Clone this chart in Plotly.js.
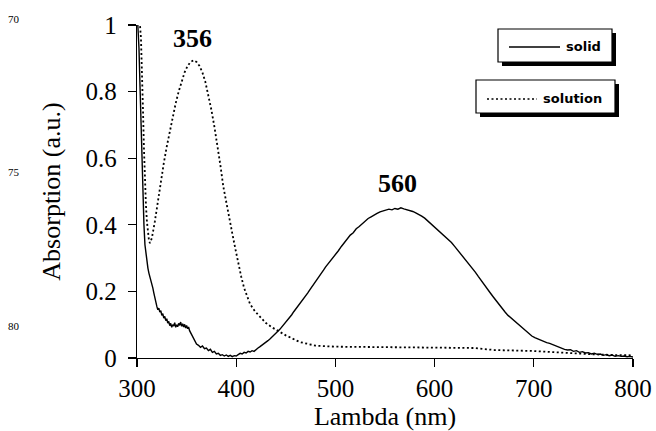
<!DOCTYPE html>
<html>
<head>
<meta charset="utf-8">
<script src="https://cdn.plot.ly/plotly-3.0.1.min.js"></script>
<style>html,body{margin:0;padding:0;background:#fff;}#chart{width:656px;height:431px;}</style>
</head>
<body>
<div id="chart"></div>
<script>
// ---- Data ----
const solidX = [300,301,302,303,304,305,306,307,308,309,310,311,312,313,314,315,316,317,318,319,320,321,322,323,324,325,326,327,328,329,330,331,332,333,334,335,336,337,338,339,340,341,342,343,344,345,346,347,348,349,350,351,352,353,354,355,356,357,358,359,360,362,364,366,368,370,372,374,376,378,380,382,384,386,388,390,392,394,396,398,400,402,404,406,408,410,412,414,416,418,420,422,424,426,428,430,432,434,436,438,440,442,444,446,448,450,452,454,456,458,460,462,464,466,468,470,472,474,476,478,480,482,484,486,488,490,492,494,496,498,500,503,506,509,512,515,518,521,524,527,530,533,536,539,542,545,548,551,554,557,560,563,566,569,572,575,578,581,584,587,590,593,596,599,602,605,608,611,614,617,620,623,626,629,632,635,638,641,644,647,650,653,656,659,662,665,668,671,674,677,680,683,686,689,692,695,698,701,704,707,710,713,716,719,722,725,728,731,734,737,740,743,746,749,752,755,758,761,764,767,770,773,776,779,782,785,788,791,794,797,800];
const solidY = [1.05,1.0,0.93,0.82,0.70,0.58,0.47,0.40,0.34,0.31,0.29,0.27,0.255,0.245,0.235,0.225,0.21,0.195,0.178,0.165,0.155,0.145,0.15,0.138,0.142,0.128,0.133,0.12,0.125,0.112,0.118,0.105,0.11,0.097,0.104,0.092,0.1,0.096,0.106,0.092,0.1,0.094,0.104,0.098,0.108,0.095,0.103,0.093,0.101,0.09,0.098,0.088,0.093,0.082,0.076,0.07,0.062,0.058,0.05,0.047,0.042,0.038,0.032,0.036,0.028,0.03,0.022,0.026,0.017,0.02,0.012,0.014,0.008,0.01,0.006,0.009,0.005,0.008,0.004,0.007,0.006,0.01,0.014,0.012,0.017,0.015,0.02,0.018,0.022,0.02,0.026,0.03,0.034,0.038,0.042,0.046,0.052,0.057,0.062,0.068,0.074,0.08,0.086,0.093,0.1,0.108,0.115,0.122,0.13,0.139,0.147,0.152,0.16,0.168,0.178,0.187,0.195,0.204,0.212,0.221,0.23,0.238,0.247,0.255,0.264,0.273,0.28,0.288,0.296,0.303,0.31,0.322,0.335,0.347,0.357,0.369,0.376,0.388,0.395,0.404,0.41,0.419,0.424,0.43,0.434,0.439,0.442,0.444,0.447,0.445,0.449,0.447,0.451,0.448,0.446,0.444,0.44,0.436,0.432,0.426,0.42,0.412,0.404,0.395,0.386,0.378,0.372,0.364,0.356,0.347,0.336,0.325,0.313,0.302,0.293,0.282,0.27,0.258,0.245,0.232,0.22,0.208,0.196,0.184,0.172,0.16,0.149,0.138,0.128,0.12,0.113,0.105,0.097,0.09,0.082,0.074,0.066,0.061,0.057,0.053,0.05,0.046,0.044,0.04,0.036,0.033,0.03,0.026,0.024,0.025,0.02,0.022,0.017,0.019,0.015,0.016,0.012,0.014,0.011,0.012,0.008,0.01,0.007,0.009,0.005,0.007,0.005,0.006,0.004,0.005,0.003];

const solutionX = [300,303,304,305,306,307,308,309,310,311,312,313,315,318,321,324,327,330,333,336,339,342,345,348,351,354,357,360,363,366,369,372,375,378,381,384,387,390,393,396,399,402,405,408,411,414,419,424,430,436,441,450,464,480,500,530,560,600,640,650,660,700,733,760,780,800];
const solutionY = [1.05,1.0,0.96,0.88,0.75,0.63,0.53,0.46,0.41,0.38,0.355,0.345,0.36,0.41,0.47,0.53,0.585,0.635,0.68,0.725,0.765,0.80,0.833,0.858,0.877,0.889,0.894,0.889,0.877,0.857,0.828,0.79,0.745,0.695,0.64,0.58,0.515,0.465,0.42,0.375,0.33,0.285,0.245,0.21,0.183,0.162,0.14,0.123,0.105,0.092,0.083,0.068,0.048,0.037,0.034,0.033,0.032,0.03,0.03,0.027,0.024,0.021,0.015,0.011,0.009,0.008];

const xTicks = [300,400,500,600,700,800];
const yTicks = [0,0.2,0.4,0.6,0.8,1];
const seriesNames = ["solid","solution"];
const peakLabels = [{x:356, y:0.96, text:"356"},{x:563, y:0.525, text:"560"}];
const lineNumbers = ["70","75","80"];

// ---- Layout helpers (pixel -> paper) ----
const W = 656, H = 431, mL = 137, mR = 23, mT = 25, mB = 73;
const pw = W - mL - mR, ph = H - mT - mB;
const px = v => (v - mL) / pw;
const py = v => (H - mB - v) / ph;

const serif = "Liberation Serif, Times New Roman, serif";
const legendFont = {family:"DejaVu Sans, sans-serif", size:13, color:"#000", weight:"bold"};

const traces = [
  {x: solidX, y: solidY, mode:"lines", name: seriesNames[0],
   line:{color:"#000", width:1.4}},
  {x: solutionX, y: solutionY, mode:"lines", name: seriesNames[1],
   line:{color:"#000", width:1.8, dash:"2px,2.5px"}}
];

// legend boxes drawn as shapes (shadowed boxes as in the original)
function box(x0,y0,x1,y1){
  return [
    {type:"rect", xref:"paper", yref:"paper", x0:px(x0+4), x1:px(x1+4), y0:py(y0+4), y1:py(y1+4),
     fillcolor:"#000", line:{width:0}},
    {type:"rect", xref:"paper", yref:"paper", x0:px(x0), x1:px(x1), y0:py(y0), y1:py(y1),
     fillcolor:"#fff", line:{color:"#000", width:1.2}}
  ];
}
const shapes = [].concat(
  box(498,29,612,62),
  box(476,80,615,113),
  [{type:"line", xref:"paper", yref:"paper", x0:px(509), x1:px(560), y0:py(47), y1:py(47), line:{color:"#000", width:1.4}},
   {type:"line", xref:"paper", yref:"paper", x0:px(487), x1:px(537), y0:py(99), y1:py(99), line:{color:"#000", width:1.6, dash:"2px,2.5px"}}]
);

const annotations = [
  {xref:"paper", yref:"paper", x:px(564), y:py(46), xanchor:"left", yanchor:"middle", showarrow:false, text:seriesNames[0], font:legendFont},
  {xref:"paper", yref:"paper", x:px(541), y:py(98), xanchor:"left", yanchor:"middle", showarrow:false, text:seriesNames[1], font:legendFont},
  {xref:"paper", yref:"paper", x:px(14), y:py(19), xanchor:"center", yanchor:"middle", showarrow:false, text:lineNumbers[0], font:{family:serif, size:11, color:"#000"}},
  {xref:"paper", yref:"paper", x:px(14), y:py(172), xanchor:"center", yanchor:"middle", showarrow:false, text:lineNumbers[1], font:{family:serif, size:11, color:"#000"}},
  {xref:"paper", yref:"paper", x:px(14), y:py(326), xanchor:"center", yanchor:"middle", showarrow:false, text:lineNumbers[2], font:{family:serif, size:11, color:"#000"}}
].concat(peakLabels.map(p => ({x:p.x, y:p.y, xref:"x", yref:"y", text:p.text, showarrow:false,
   font:{family:serif, size:26, color:"#000", weight:"bold"}})));

const layout = {
  width: W, height: H,
  margin:{l:mL, r:mR, t:mT, b:mB, pad:0},
  paper_bgcolor:"#fff", plot_bgcolor:"#fff",
  showlegend:false,
  font:{family:serif, color:"#000"},
  xaxis:{range:[300,800], tickvals:xTicks, ticktext:xTicks.map(String),
    showline:true, linecolor:"#000", linewidth:1.3, ticks:"outside", ticklen:8, tickwidth:1.3, tickcolor:"#000",
    showgrid:false, zeroline:false, tickfont:{family:serif, size:25, color:"#000"},
    title:{text:"Lambda (nm)", font:{family:serif, size:26, color:"#000"}, standoff:6}},
  yaxis:{range:[0,1], tickvals:yTicks, ticktext:yTicks.map(v=>String(v)),
    showline:true, linecolor:"#000", linewidth:1.3, ticks:"outside", ticklen:8, tickwidth:1.3, tickcolor:"#000",
    showgrid:false, zeroline:false, tickfont:{family:serif, size:25, color:"#000"}, ticklabelstandoff:6,
    title:{text:"Absorption (a.u.)", font:{family:serif, size:26, color:"#000"}, standoff:17}},
  shapes: shapes,
  annotations: annotations
};

Plotly.newPlot("chart", traces, layout, {displayModeBar:false, staticPlot:true});
</script>
</body>
</html>
